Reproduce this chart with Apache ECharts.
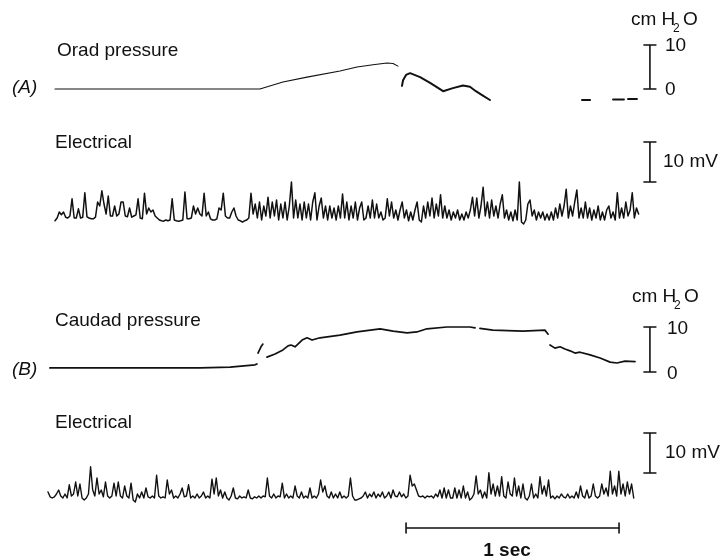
<!DOCTYPE html>
<html>
<head>
<meta charset="utf-8">
<script src="https://cdn.jsdelivr.net/npm/echarts@6/dist/echarts.min.js"></script>
<style>html,body{margin:0;padding:0;background:#fff}#c{width:725px;height:560px}</style>
</head>
<body>
<div id="c"></div>
<script>
// ---------------- data ----------------
// time in seconds, pressure in cm H2O, potential in mV
const panelLabels = ['(A)', '(B)'];
const pressureLabels = ['Orad pressure', 'Caudad pressure'];
const electricalLabel = 'Electrical';
const pressureScaleLabels = ['10', '0'];
const pressureUnit = ['cm H', '2', 'O'];
const voltScaleLabel = '10 mV';
const timeScaleLabel = '1 sec';

// Orad pressure (null = gap in the trace)
const oradT = [0.047, 0.493, 1.009, 1.117, 1.230, 1.385, 1.465, 1.540, 1.606, 1.634, 1.657, null,
  1.676, 1.681, 1.695, 1.714, 1.761, 1.808, 1.869, 1.915, 1.962, 1.995, 2.023, 2.052, 2.089, null,
  2.521, 2.559, null, 2.667, 2.718, null, 2.737, 2.779];
const oradP = [0, 0, 0, 1.6, 2.7, 4.1, 5.0, 5.5, 5.9, 5.8, 5.2, null,
  0.7, 2.0, 3.2, 3.6, 2.7, 1.4, -0.5, 0.2, 0.8, 0.5, -0.5, -1.4, -2.5, null,
  -2.5, -2.5, null, -2.4, -2.4, null, -2.3, -2.3];

// Caudad pressure
const caudT = [0.023, 0.352, 0.728, 0.869, 0.986, 0.995, null,
  1.000, 1.014, 1.023, null,
  1.042, 1.080, 1.117, 1.141, 1.155, 1.174, 1.207, 1.230, 1.254, 1.291, 1.385, 1.465, 1.573, 1.634,
  1.700, 1.746, 1.793, 1.887, 1.995, 2.019, null,
  2.042, 2.103, 2.244, 2.347, 2.362, null,
  2.371, 2.394, 2.418, 2.441, 2.465, 2.488, 2.512, 2.559, 2.606, 2.653, 2.685, 2.723, 2.770];
const caudP = [0.9, 0.9, 0.9, 1.1, 1.6, 1.8, null,
  4.2, 5.6, 6.2, null,
  3.3, 4.0, 4.9, 5.8, 6.0, 5.6, 7.1, 7.6, 7.1, 7.6, 8.2, 8.9, 9.6, 9.1,
  8.7, 8.9, 9.6, 10.0, 10.0, 9.8, null,
  9.7, 9.3, 9.1, 9.3, 8.4, null,
  6.0, 5.3, 5.6, 5.1, 4.7, 4.2, 4.4, 3.8, 3.1, 2.2, 2.0, 2.4, 2.3];

// Electrical records, sampled every 0.01 s
const elecStartA = 0.047;
const elecStartB = 0.014;
const elecStep = 0.01;
const elecA = [
  0.3,1.0,2.5,1.8,2.5,1.2,1.0,1.5,5.8,1.0,
  1.0,3.3,1.0,1.2,7.3,1.3,1.0,0.8,0.8,1.2,
  5.0,4.0,7.8,4.5,2.0,6.5,1.5,1.5,4.0,1.5,
  2.0,5.0,5.0,1.5,1.3,3.5,1.2,1.5,1.8,5.8,
  1.0,0.8,7.2,2.0,3.5,2.5,3.0,1.5,1.0,0.5,
  0.3,0.2,0.5,0.3,0.5,5.8,0.5,0.3,0.2,0.3,
  0.5,7.5,0.8,0.8,1.0,4.0,2.0,3.5,2.0,1.5,
  7.2,1.5,2.5,0.8,0.5,0.5,0.8,3.5,3.0,7.2,
  1.5,1.0,1.0,2.5,3.5,1.5,0.5,0.3,0.0,0.3,
  0.5,1.0,7.2,2.0,4.5,1.0,5.0,0.5,4.0,1.5,
  6.2,1.0,5.0,1.5,5.5,0.5,4.5,1.0,5.0,0.5,
  4.0,10.0,1.0,5.5,1.0,4.5,0.5,5.0,1.0,4.5,
  0.5,5.0,7.3,0.5,4.0,6.0,1.0,4.0,0.5,4.0,
  1.0,3.5,0.5,4.0,1.0,7.0,1.0,5.0,0.5,4.0,
  1.0,5.0,0.5,3.5,5.0,0.5,1.0,4.0,1.0,5.5,
  1.0,4.5,1.0,2.5,0.5,1.0,5.8,1.5,5.0,1.0,
  3.0,0.5,3.0,5.0,1.0,3.0,0.3,2.5,0.5,3.0,
  5.0,0.5,0.0,4.0,1.0,5.0,1.5,6.0,1.0,4.5,
  1.5,6.8,1.0,4.0,1.0,3.0,0.5,2.5,1.0,3.0,
  0.5,2.0,0.5,2.5,1.0,3.0,6.2,1.5,6.0,1.0,
  4.0,8.7,1.5,5.0,1.0,5.5,1.5,4.0,1.0,4.5,
  6.8,1.0,3.0,0.5,2.5,0.3,3.0,0.5,10.0,0.0,
  -0.5,0.5,4.5,5.5,1.5,3.0,0.5,2.5,1.0,2.5,
  0.5,2.0,0.5,2.5,0.5,3.5,1.0,4.5,1.5,4.0,
  8.2,1.0,4.0,1.5,5.0,8.0,1.0,3.5,1.0,5.0,
  1.0,3.5,0.5,3.0,1.0,4.0,0.5,2.5,0.5,3.0,
  4.0,1.0,2.5,0.5,7.3,1.0,3.5,1.0,5.0,1.5,
  3.0,7.3,1.0,3.5,2.0
];
const elecB = [
  2.0,0.8,0.5,0.8,1.5,2.5,1.0,0.5,1.5,0.5,
  3.8,1.0,1.5,4.5,1.0,4.0,0.5,0.0,0.5,1.5,
  8.3,2.5,1.0,5.5,1.5,2.5,0.8,4.5,1.0,0.5,
  1.0,4.2,1.0,4.5,1.0,0.5,3.5,1.0,0.5,4.2,
  0.0,-0.5,1.5,0.5,2.0,0.5,3.0,0.8,0.5,1.0,
  0.5,6.2,1.0,0.5,0.8,0.5,5.0,1.5,2.5,0.5,
  1.0,0.5,1.5,3.0,0.8,1.0,3.8,0.5,1.0,0.5,
  1.5,0.5,1.0,2.0,0.5,1.0,0.5,5.2,1.5,5.5,
  1.0,2.5,0.5,2.0,0.5,0.0,1.0,3.0,0.5,0.3,
  1.0,0.5,0.8,0.5,2.5,0.5,0.3,0.8,0.5,1.0,
  0.5,1.0,0.8,5.5,1.0,0.5,1.5,0.5,1.0,0.8,
  4.2,0.5,1.5,0.5,1.0,0.5,3.5,1.0,0.5,2.0,
  0.5,1.0,0.5,3.0,0.5,1.0,0.5,1.5,5.0,2.0,
  3.5,1.0,0.5,2.0,0.5,1.5,0.5,2.0,0.5,1.0,
  0.5,1.0,5.5,1.0,0.0,0.0,0.3,0.5,1.0,2.0,
  0.5,1.5,0.8,2.0,0.5,1.5,0.8,2.0,0.5,1.0,
  2.0,0.5,2.5,1.0,0.8,2.0,0.8,1.5,0.5,1.0,
  6.2,3.5,4.0,2.5,1.0,0.8,1.0,0.5,1.0,0.8,
  1.0,0.5,1.5,0.8,2.5,0.5,3.0,0.5,2.5,0.5,
  0.5,3.0,0.5,2.5,0.5,3.5,0.5,2.0,0.0,0.5,
  1.5,6.0,1.5,2.5,0.5,2.0,0.5,6.8,1.5,4.0,
  1.0,3.5,1.0,5.8,1.0,0.5,4.5,1.5,1.0,5.5,
  1.0,3.5,0.5,4.0,0.5,0.0,1.0,4.0,0.5,1.5,
  0.5,5.8,1.5,3.5,1.0,5.0,0.5,1.0,0.3,1.0,
  0.5,1.5,0.8,0.5,1.5,0.5,1.0,0.5,2.0,0.5,
  3.5,1.0,0.5,2.5,0.5,1.0,4.0,1.0,0.5,1.0,
  4.0,1.5,3.0,1.0,7.2,1.5,3.5,1.0,7.2,1.5,
  4.0,1.0,4.5,1.5,4.0,0.5
];

// calibration bars (data units)
const pressureBar = [0, 10];          // cm H2O
const voltBarA = [10, 20];            // mV, in record A's frame
const voltBarB = [6.75, 16.75];       // mV, in record B's frame
const timeBar = [1.695, 2.695];       // 1 s
const timeBarLevel = -7;              // mV frame of record B
const barTime = 2.840;                // s, horizontal position of vertical bars

// ---------------- layout ----------------
const PX_PER_S = 213, LEFT = 45, T_MAX = 3;
const frames = [
  {zeroY: 89,  ppu: 4.4, min: -4, max: 11},   // orad pressure
  {zeroY: 222, ppu: 4.0, min: -2, max: 21},   // electrical A
  {zeroY: 372, ppu: 4.5, min: -2, max: 12},   // caudad pressure
  {zeroY: 500, ppu: 4.0, min: -9, max: 18}    // electrical B
];
const INK = '#111';
const FONT = '"Liberation Sans", Arial, Helvetica, sans-serif';
const TICK = 0.028;

const grids = frames.map(f => ({
  left: LEFT, width: PX_PER_S * T_MAX,
  top: f.zeroY - f.max * f.ppu, height: (f.max - f.min) * f.ppu
}));
const xAxes = frames.map((f, i) => ({type: 'value', gridIndex: i, min: 0, max: T_MAX, show: false}));
const yAxes = frames.map((f, i) => ({type: 'value', gridIndex: i, min: f.min, max: f.max, show: false}));

function pairs(ts, vs) { return ts.map((t, i) => [t, vs[i]]); }
function segments(ts, vs) {
  const out = [[]];
  ts.forEach((t, i) => { if (t === null) out.push([]); else out[out.length - 1].push([t, vs[i]]); });
  return out;
}
function sampled(start, step, vs) { return vs.map((v, i) => [start + i * step, v]); }
function lineSeries(idx, data, width) {
  return {type: 'line', xAxisIndex: idx, yAxisIndex: idx, data, symbol: 'none', silent: true,
    clip: false, connectNulls: false, animation: false,
    lineStyle: {color: INK, width: width, join: 'round', cap: 'round'}};
}
function vBar(idx, t, lo, hi) {
  return [[t - TICK, hi], [t + TICK, hi], [null, null], [t, hi], [t, lo], [null, null], [t - TICK, lo], [t + TICK, lo]];
}
function hBar(idx, t0, t1, y) {
  const h = 1.25;
  return [[t0, y + h], [t0, y - h], [null, null], [t0, y], [t1, y], [null, null], [t1, y + h], [t1, y - h]];
}

const series = [];
segments(oradT, oradP).forEach((seg, k) => series.push(lineSeries(0, seg, k === 0 ? 1.1 : 2.0)));
series.push(lineSeries(1, sampled(elecStartA, elecStep, elecA), 1.5));
series.push(lineSeries(2, pairs(caudT, caudP), 1.7));
series.push(lineSeries(3, sampled(elecStartB, elecStep, elecB), 1.4));
series.push(lineSeries(0, vBar(0, barTime, pressureBar[0], pressureBar[1]), 1.6));
series.push(lineSeries(1, vBar(1, barTime, voltBarA[0], voltBarA[1]), 1.6));
series.push(lineSeries(2, vBar(2, barTime, pressureBar[0], pressureBar[1]), 1.6));
series.push(lineSeries(3, vBar(3, barTime, voltBarB[0], voltBarB[1]), 1.6));
series.push(lineSeries(3, hBar(3, timeBar[0], timeBar[1], timeBarLevel), 1.6));

function txt(s, x, y, opt) {
  return {type: 'text', x, y, silent: true, z: 10,
    style: Object.assign({text: s, fill: INK, fontSize: 19, fontFamily: FONT,
      align: 'left', verticalAlign: 'middle'}, opt || {})};
}
const graphic = [
  txt(pressureLabels[0], 57, 51),
  txt(panelLabels[0], 12, 88, {fontStyle: 'italic'}),
  txt(electricalLabel, 55, 143),
  txt(pressureUnit[0], 631, 20), txt(pressureUnit[1], 673, 29, {fontSize: 12}), txt(pressureUnit[2], 683, 20),
  txt(pressureScaleLabels[0], 665, 46), txt(pressureScaleLabels[1], 665, 90),
  txt(voltScaleLabel, 663, 162),
  txt(pressureLabels[1], 55, 321),
  txt(panelLabels[1], 12, 370, {fontStyle: 'italic'}),
  txt(pressureUnit[0], 632, 297), txt(pressureUnit[1], 674, 306, {fontSize: 12}), txt(pressureUnit[2], 684, 297),
  txt(pressureScaleLabels[0], 667, 329), txt(pressureScaleLabels[1], 667, 374),
  txt(electricalLabel, 55, 423),
  txt(voltScaleLabel, 665, 453),
  txt(timeScaleLabel, 507, 551, {fontWeight: 'bold', align: 'center'})
];

const chart = echarts.init(document.getElementById('c'), null, {renderer: 'canvas'});
chart.setOption({
  animation: false,
  backgroundColor: '#fff',
  grid: grids, xAxis: xAxes, yAxis: yAxes,
  series, graphic
});
</script>
</body>
</html>
